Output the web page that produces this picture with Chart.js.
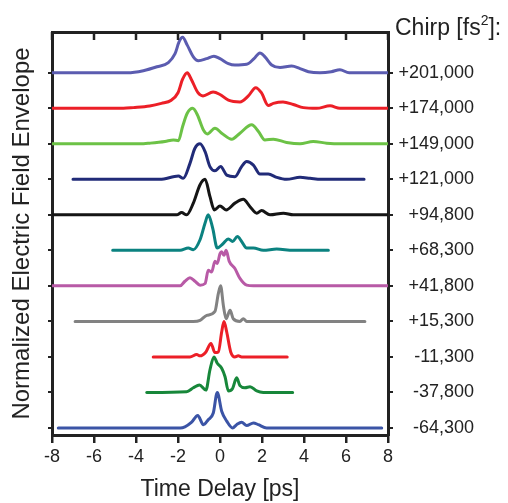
<!DOCTYPE html>
<html><head><meta charset="utf-8">
<script src="https://cdn.jsdelivr.net/npm/chart.js@4.4.0/dist/chart.umd.min.js"></script>
<style>html,body{margin:0;padding:0;background:#fff}#wrap{width:508px;height:503px}</style>
</head><body><div id="wrap"><canvas id="c" width="508" height="503"></canvas></div>
<script>
// Chirp labels, bottom (index 0) to top (index 10)
const chirpLabels = ['-64,300','-37,800','-11,300','+15,300','+41,800','+68,300','+94,800','+121,000','+149,000','+174,000','+201,000'];
const xTicks = [-8,-6,-4,-2,0,2,4,6,8];

// Time delay [ps] and normalized envelope for each chirp
const tP201 = [-8,-4.4,-3.65,-3.0,-2.46,-2.14,-1.95,-1.78,-1.56,-1.27,-1.03,-0.64,-0.29,0,0.4,0.71,1.27,1.62,1.9,2.14,2.46,2.86,3.41,3.81,4.21,4.76,5.3,5.71,6.15,8];
const aP201 = [0,0,0.06,0.17,0.29,0.54,0.87,1.0,0.78,0.45,0.34,0.40,0.47,0.40,0.26,0.22,0.24,0.40,0.56,0.45,0.22,0.15,0.19,0.12,0.03,0.0,0.03,0.09,0,0];

const tP174 = [-8,-4.6,-4.13,-3.35,-2.79,-2.32,-2.0,-1.78,-1.56,-1.37,-1.05,-0.81,-0.33,0,0.4,0.95,1.35,1.7,1.97,2.3,2.54,3.0,3.49,3.97,4.6,5.24,5.71,8];
const aP174 = [0,0,0.02,0.066,0.14,0.23,0.44,0.82,1.0,0.82,0.44,0.35,0.46,0.39,0.23,0.18,0.35,0.58,0.44,0.08,0.14,0.18,0.11,0.02,0,0.07,0,0];

const tP149 = [-8,-3.8,-3.33,-2.62,-2.22,-1.98,-1.78,-1.56,-1.3,-1.08,-0.79,-0.6,-0.24,0.08,0.56,0.95,1.51,1.83,2.14,2.54,3.17,3.81,4.44,5.08,5.71,8];
const aP149 = [0,0,0.02,0.066,0.11,0.09,0.49,0.86,1.0,0.82,0.39,0.28,0.44,0.30,0.13,0.30,0.54,0.35,0.11,0.13,0.04,0,0.066,0.02,0,0];

const tP121 = [-7.0,-2.86,-1.98,-1.75,-1.43,-1.2,-0.95,-0.71,-0.48,-0.24,0.03,0.32,0.71,1.03,1.27,1.59,1.9,2.3,2.7,3.17,3.81,4.29,4.8,6.86];
const aP121 = [0,0,0.094,0.03,0.45,0.87,1.0,0.78,0.36,0.24,0.36,0.12,0.075,0.36,0.50,0.40,0.15,0.15,0.056,0,0.056,0.03,0,0];

const tP948 = [-8,-2.3,-2.06,-1.83,-1.59,-1.27,-0.95,-0.71,-0.48,-0.27,0,0.29,0.71,1.11,1.43,1.75,1.98,2.38,3.02,3.49,8];
const aP948 = [0,0,0,0.066,0,0.33,0.85,1.0,0.52,0.14,0.25,0.14,0.33,0.44,0.23,0.047,0.12,0,0.047,0,0];

const tP683 = [-5.11,-1.9,-1.51,-1.27,-0.95,-0.71,-0.56,-0.35,-0.13,0.13,0.4,0.6,0.83,1.03,1.27,1.59,2.06,2.7,3.49,5.16];
const aP683 = [0,0,0.066,0.02,0.30,0.77,1.0,0.63,0.066,0.18,0.32,0.25,0.39,0.25,0.066,0.066,0,0.04,0,0];

const tP418 = [-8,-1.9,-1.67,-1.43,-1.19,-0.95,-0.71,-0.56,-0.4,-0.24,-0.13,0,0.08,0.19,0.29,0.44,0.71,0.95,1.27,1.59,8];
const aP418 = [0,0,0.13,0.23,0.13,0.02,0.066,0.44,0.39,0.69,0.63,0.91,0.96,0.86,1.0,0.69,0.49,0.21,0.02,0,0];

const tP153 = [-6.9,-1.27,-0.95,-0.63,-0.24,-0.08,0.03,0.16,0.29,0.48,0.63,0.95,1.11,1.27,6.9];
const aP153 = [0,0,0.03,0.17,0.28,0.78,1.0,0.45,0.075,0.31,0.075,0,0.075,0,0];

const tM113 = [-3.18,-1.43,-1.11,-0.95,-0.67,-0.43,-0.24,-0.08,0.08,0.19,0.32,0.51,0.71,0.87,1.03,3.2];
const aM113 = [0,0,0.066,0.03,0.14,0.38,0.12,0.14,0.70,1.0,0.70,0.14,0,0.03,0,0];

const tM378 = [-3.49,-1.59,-1.27,-0.98,-0.67,-0.48,-0.29,-0.13,0.08,0.24,0.4,0.6,0.79,0.95,1.19,1.43,1.75,2.06,3.46];
const aM378 = [0,0.02,0.13,0.21,0.066,0.63,1.0,0.82,0.68,0.44,0.04,0.11,0.41,0.19,0.13,0.16,0.04,0,0];

const tM643 = [-7.7,-1.9,-1.67,-1.35,-1.06,-0.79,-0.56,-0.32,-0.13,0.08,0.32,0.6,0.79,1.03,1.27,1.59,1.83,2.22,7.7];
const aM643 = [0,0,0.03,0.16,0.35,0.09,0.23,0.42,1.0,0.47,0.19,0,0.09,0.16,0.066,0.14,0.09,0,0];

// bottom to top
const traces = [
  [tM643,aM643,'#3b54a6'],
  [tM378,aM378,'#17873a'],
  [tM113,aM113,'#ec1f27'],
  [tP153,aP153,'#828282'],
  [tP418,aP418,'#b85aa6'],
  [tP683,aP683,'#0b8280'],
  [tP948,aP948,'#151515'],
  [tP121,aP121,'#212b78'],
  [tP149,aP149,'#6cc246'],
  [tP174,aP174,'#ec1f27'],
  [tP201,aP201,'#5b5cb0']
];

const FONT = "'Liberation Sans', Arial, sans-serif";
const TXT = '#222';

const datasets = traces.map(([t,a,col],i)=>({
  label: chirpLabels[i],
  data: t.map((x,k)=>({x:x, y:i + a[k]})),
  borderColor: col,
  borderWidth: 3,
  borderCapStyle: 'round',
  borderJoinStyle: 'round',
  pointRadius: 0,
  showLine: true,
  fill: false,
  cubicInterpolationMode: 'monotone'
}));

const extras = {
  id:'extras',
  afterDraw(chart){
    const ctx = chart.ctx;
    const xs = chart.scales.xTop;
    const top = chart.chartArea.top;
    ctx.save();
    ctx.strokeStyle = TXT; ctx.lineWidth = 2.5;
    xTicks.forEach(v=>{
      const px = xs.getPixelForValue(v);
      ctx.beginPath(); ctx.moveTo(px, top); ctx.lineTo(px, top+8); ctx.stroke();
    });
    // Chirp header
    ctx.fillStyle = TXT;
    ctx.textBaseline = 'alphabetic';
    ctx.textAlign = 'left';
    ctx.font = '23px ' + FONT;
    let x = 395, y = 35;
    const s1 = 'Chirp [fs';
    ctx.fillText(s1, x, y);
    x += ctx.measureText(s1).width;
    ctx.font = '14px ' + FONT;
    ctx.fillText('2', x, y - 10);
    x += ctx.measureText('2').width;
    ctx.font = '23px ' + FONT;
    ctx.fillText(']:', x, y);
    ctx.restore();
  }
};

new Chart(document.getElementById('c'), {
  type: 'scatter',
  data: { datasets },
  options: {
    responsive: false,
    animation: false,
    events: [],
    layout: { padding: {left:0, top:0, bottom:0, right:34} },
    plugins: { legend: {display:false}, tooltip: {enabled:false} },
    scales: {
      x: {
        type:'linear', position:'bottom', min:-8, max:8,
        afterBuildTicks: ax => { ax.ticks = xTicks.map(v=>({value:v})); },
        afterFit: ax => { ax.height = 68; },
        ticks: { font:{family:FONT,size:18}, color:TXT, padding:3, maxRotation:0 },
        grid: { display:true, drawOnChartArea:false, drawTicks:true, tickLength:8, lineWidth:2.5, color:TXT },
        border: { display:true, width:3, color:TXT },
        title: { display:true, text:'Time Delay [ps]', font:{family:FONT,size:23}, color:TXT, padding:{top:0,bottom:0} }
      },
      xTop: {
        type:'linear', position:'top', min:-8, max:8,
        afterFit: ax => { ax.height = 32; },
        ticks: { display:false },
        grid: { display:false },
        border: { display:true, width:3, color:TXT }
      },
      y: {
        type:'linear', position:'left', min:-0.2, max:11.15,
        afterBuildTicks: ax => { ax.ticks = chirpLabels.map((_,i)=>({value:i})); },
        afterFit: ax => { ax.width = 52; },
        ticks: { display:false },
        grid: { display:true, drawOnChartArea:false, drawTicks:true, tickLength:4, lineWidth:2, color:TXT },
        border: { display:true, width:3, color:TXT },
        title: { display:true, text:'Normalized Electric Field Envelope', font:{family:FONT,size:24}, color:TXT, padding:{top:8,bottom:0} }
      },
      y2: {
        type:'linear', position:'right', min:-0.2, max:11.15,
        afterBuildTicks: ax => { ax.ticks = chirpLabels.map((_,i)=>({value:i})); },
        afterFit: ax => { ax.width = 86; },
        ticks: { font:{family:FONT,size:18}, color:TXT, padding:5, crossAlign:'far', callback: v => chirpLabels[v] },
        grid: { display:true, drawOnChartArea:false, drawTicks:true, tickLength:5, lineWidth:2, color:TXT },
        border: { display:true, width:3, color:TXT }
      }
    }
  },
  plugins: [extras]
});
</script></body></html>
